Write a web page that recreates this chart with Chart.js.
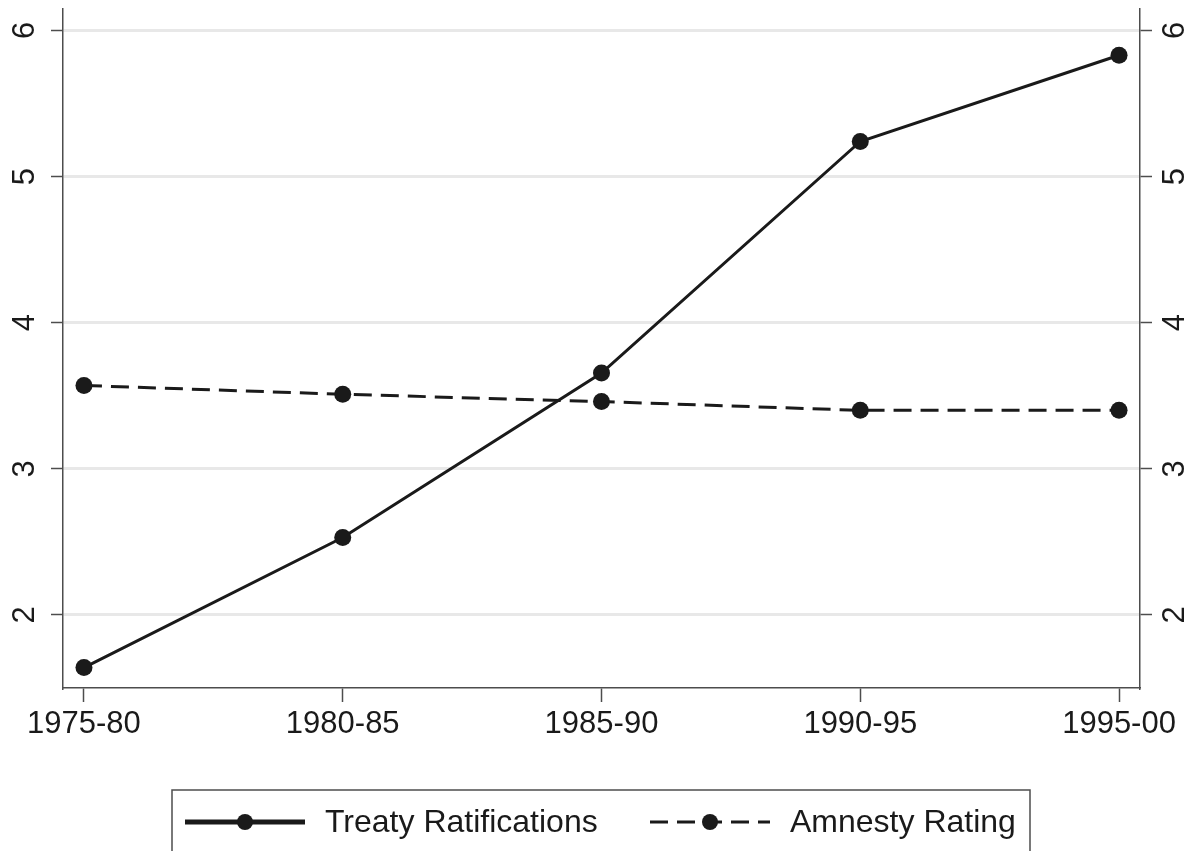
<!doctype html>
<html>
<head>
	<title>Treaty Ratifications vs Amnesty Rating</title>
	<script src="https://cdn.jsdelivr.net/npm/chart.js@4/dist/chart.umd.min.js"></script>
	<style>
	body { margin: 0; background: #fff; }
	#container { width: 1191px; height: 851px; }
	</style>
</head>
<body>
	<div id="container">
		<canvas id="canvas"></canvas>
	</div>
	<script>
		const PERIODS = ['1975-80', '1980-85', '1985-90', '1990-95', '1995-00'];
		const TREATY = [1.64, 2.53, 3.655, 5.24, 5.83];
		const AMNESTY = [3.57, 3.51, 3.46, 3.40, 3.40];
		const Y_TICKS = [2, 3, 4, 5, 6];

		const FONT = 'Liberation Sans, Arial, sans-serif';
		const INK = '#1a1a1a';
		const AXIS = '#4d4d4d';

		// stata-like legend box below the plot
		const boxLegend = {
			id: 'boxLegend',
			afterDraw(chart) {
				const ctx = chart.ctx;
				const top = 790;
				const midY = 822;
				ctx.save();
				ctx.strokeStyle = AXIS;
				ctx.lineWidth = 1.5;
				ctx.strokeRect(172, top, 858, 80);

				const items = [
					{ x: 185, textX: 325 },
					{ x: 650, textX: 790 }
				];
				chart.data.datasets.forEach((ds, i) => {
					const it = items[i];
					ctx.strokeStyle = ds.borderColor;
					ctx.lineWidth = i === 0 ? 5 : 3;
					ctx.setLineDash(ds.borderDash || []);
					ctx.beginPath();
					ctx.moveTo(it.x, midY);
					ctx.lineTo(it.x + 120, midY);
					ctx.stroke();
					ctx.setLineDash([]);
					ctx.fillStyle = ds.pointBackgroundColor;
					ctx.beginPath();
					ctx.arc(it.x + 60, midY, 8, 0, Math.PI * 2);
					ctx.fill();
					ctx.fillStyle = INK;
					ctx.font = '32px ' + FONT;
					ctx.textBaseline = 'middle';
					ctx.textAlign = 'left';
					ctx.fillText(ds.label, it.textX, midY + 1);
				});
				ctx.restore();
			}
		};

		function noPad(scale) {
			scale.paddingTop = 0;
			scale.paddingBottom = 0;
			scale.paddingLeft = 0;
			scale.paddingRight = 0;
		}

		function yScale(position, padding) {
			return {
				type: 'linear',
				position: position,
				min: 1.5,
				max: 6.15,
				afterBuildTicks(scale) {
					scale.ticks = Y_TICKS.map(v => ({ value: v }));
				},
				afterFit(scale) {
					scale.width = position === 'left' ? 63 : 51;
					noPad(scale);
				},
				border: { display: true, color: AXIS, width: 1.5 },
				grid: {
					drawOnChartArea: position === 'left',
					color: '#e8e8e8',
					lineWidth: 3,
					drawTicks: true,
					tickLength: 12,
					tickColor: AXIS,
					tickWidth: 1.5
				},
				ticks: {
					minRotation: 90,
					maxRotation: 90,
					crossAlign: 'center',
					padding: padding,
					color: INK,
					font: { family: FONT, size: 31 }
				}
			};
		}

		window.onload = function() {
			const ctx = document.getElementById('canvas').getContext('2d');
			window.myLine = new Chart(ctx, {
				type: 'line',
				data: {
					datasets: [{
						label: 'Treaty Ratifications',
						data: PERIODS.map((p, i) => ({ x: i, y: TREATY[i] })),
						borderColor: INK,
						borderWidth: 3,
						pointRadius: 8.5,
						pointBackgroundColor: INK,
						pointBorderWidth: 0,
						tension: 0
					}, {
						label: 'Amnesty Rating',
						data: PERIODS.map((p, i) => ({ x: i, y: AMNESTY[i] })),
						borderColor: INK,
						borderWidth: 3,
						borderDash: [18, 9],
						pointRadius: 8.5,
						pointBackgroundColor: INK,
						pointBorderWidth: 0,
						tension: 0
					}]
				},
				options: {
					responsive: true,
					maintainAspectRatio: false,
					animation: false,
					layout: { padding: { top: 8, left: 0, right: 0, bottom: 0 } },
					plugins: {
						legend: { display: false },
						tooltip: { enabled: false }
					},
					scales: {
						x: {
							type: 'linear',
							min: -0.081,
							max: 4.081,
							afterBuildTicks(scale) {
								scale.ticks = PERIODS.map((p, i) => ({ value: i }));
							},
							afterFit(scale) {
								scale.height = 163;
								noPad(scale);
							},
							border: { display: true, color: AXIS, width: 1.5 },
							grid: {
								drawOnChartArea: false,
								drawTicks: true,
								tickLength: 14,
								tickColor: AXIS,
								tickWidth: 1.5
							},
							ticks: {
								maxRotation: 0,
								padding: 4,
								color: INK,
								font: { family: FONT, size: 31 },
								callback: (v) => PERIODS[v]
							}
						},
						y: yScale('left', 17),
						y2: yScale('right', 15)
					}
				},
				plugins: [boxLegend]
			});
		};
	</script>
</body>
</html>
